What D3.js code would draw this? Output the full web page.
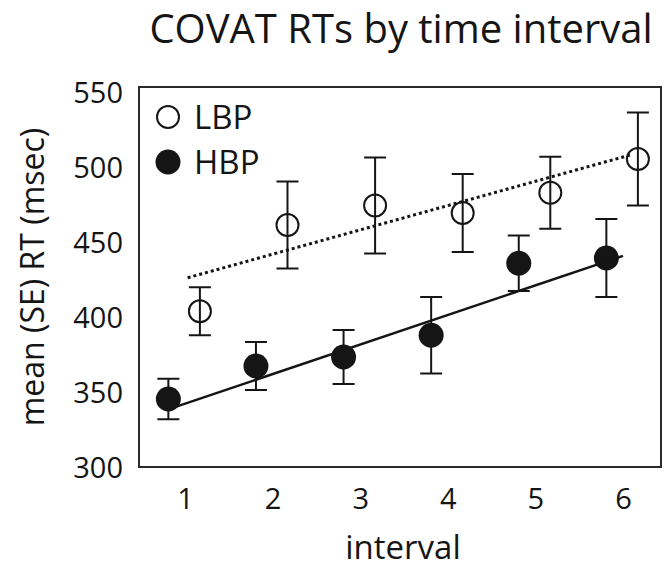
<!DOCTYPE html>
<html>
<head>
<meta charset="utf-8">
<script src="https://cdn.jsdelivr.net/npm/d3@7"></script>
<style>
  body { margin: 0; background: #fff; }
  text { font-family: "Open Sans", sans-serif; fill: #151515; }
</style>
</head>
<body>
<div id="chart"></div>
<script>
// values
var intervals = [1, 2, 3, 4, 5, 6];
var lbpMean = [404.5, 462, 475, 470, 483.5, 506];
var lbpSE   = [16, 29, 32, 26, 24, 31];
var hbpMean = [346, 368, 374, 388.5, 436.5, 440];
var hbpSE   = [13.5, 16, 18, 25.5, 18.5, 26];
var yTicks = [300, 350, 400, 450, 500, 550];
// x span of each fitted line (interval units)
var lbpFitSpan = [1.03, 6.1];
var hbpFitSpan = [0.85, 6.0];

var width = 665, height = 569;
var box = {left: 139, right: 661, top: 87, bottom: 467};
var ink = "#151515";

var svg = d3.select("#chart").append("svg")
  .attr("width", width)
  .attr("height", height);

var x = d3.scaleLinear().domain([1, 6]).range([185, 623]);
var y = d3.scaleLinear().domain([300, 550]).range([468, 93]);

// least squares line through the means
function fit(xs, ys) {
  var mx = d3.mean(xs), my = d3.mean(ys);
  var num = d3.sum(xs, function(d, i) { return (d - mx) * (ys[i] - my); });
  var den = d3.sum(xs, function(d) { return (d - mx) * (d - mx); });
  var b = num / den;
  return function(v) { return my + b * (v - mx); };
}

var groups = [
  {name: "LBP", mean: lbpMean, se: lbpSE, dodge: 0.17, filled: false, span: lbpFitSpan, dash: "3,3", lw: 3},
  {name: "HBP", mean: hbpMean, se: hbpSE, dodge: -0.19, filled: true, span: hbpFitSpan, dash: null, lw: 2.5}
];

// frame
svg.append("rect")
  .attr("x", box.left).attr("y", box.top)
  .attr("width", box.right - box.left)
  .attr("height", box.bottom - box.top)
  .attr("fill", "none")
  .attr("stroke", "#2a2a2a")
  .attr("stroke-width", 2);

// axes (labels only)
var yAxis = svg.append("g")
  .attr("transform", "translate(" + box.left + ",0)")
  .call(d3.axisLeft(y).tickValues(yTicks).tickFormat(d3.format("d")).tickSize(0).tickPadding(16));
var xAxis = svg.append("g")
  .attr("transform", "translate(0," + box.bottom + ")")
  .call(d3.axisBottom(x).tickValues(intervals).tickFormat(d3.format("d")).tickSize(0).tickPadding(21));
[yAxis, xAxis].forEach(function(g) {
  g.select(".domain").remove();
  g.selectAll("text")
    .style("font-family", "'Open Sans', sans-serif")
    .style("font-size", "29px")
    .attr("fill", ink);
});

groups.forEach(function(g) {
  var pts = intervals.map(function(v, i) {
    return {x: v + g.dodge, m: g.mean[i], se: g.se[i]};
  });
  var layer = svg.append("g").attr("class", g.name);

  // error bars
  var eb = layer.selectAll(".eb").data(pts).enter().append("g")
    .attr("stroke", ink).attr("stroke-width", 2);
  eb.append("line")
    .attr("x1", function(d) { return x(d.x); })
    .attr("x2", function(d) { return x(d.x); })
    .attr("y1", function(d) { return y(d.m - d.se); })
    .attr("y2", function(d) { return y(d.m + d.se); });
  [-1, 1].forEach(function(s) {
    eb.append("line")
      .attr("x1", function(d) { return x(d.x) - 11; })
      .attr("x2", function(d) { return x(d.x) + 11; })
      .attr("y1", function(d) { return y(d.m + s * d.se); })
      .attr("y2", function(d) { return y(d.m + s * d.se); });
  });

  // markers
  layer.selectAll("circle").data(pts).enter().append("circle")
    .attr("cx", function(d) { return x(d.x); })
    .attr("cy", function(d) { return y(d.m); })
    .attr("r", g.filled ? 12.5 : 11)
    .attr("fill", g.filled ? ink : "none")
    .attr("stroke", ink)
    .attr("stroke-width", g.filled ? 0 : 2);

  // fitted line
  var f = fit(intervals, g.mean);
  layer.append("line")
    .attr("x1", x(g.span[0])).attr("y1", y(f(g.span[0])))
    .attr("x2", x(g.span[1])).attr("y2", y(f(g.span[1])))
    .attr("stroke", ink)
    .attr("stroke-width", g.lw)
    .attr("stroke-dasharray", g.dash);
});

// legend
var legend = svg.append("g");
groups.forEach(function(g, i) {
  var cy = 117 + i * 45;
  legend.append("circle")
    .attr("cx", 168).attr("cy", cy)
    .attr("r", g.filled ? 12.5 : 11)
    .attr("fill", g.filled ? ink : "none")
    .attr("stroke", ink)
    .attr("stroke-width", g.filled ? 0 : 2);
  legend.append("text")
    .attr("x", 194).attr("y", cy + 11.5)
    .style("font-size", "33px")
    .text(g.name);
});

// titles
svg.append("text")
  .attr("x", 401).attr("y", 43)
  .attr("text-anchor", "middle")
  .style("font-size", "40px")
  .text("COVAT RTs by time interval");

svg.append("text")
  .attr("x", 403).attr("y", 559)
  .attr("text-anchor", "middle")
  .style("font-size", "33px")
  .text("interval");

svg.append("text")
  .attr("transform", "translate(44," + ((box.top + box.bottom) / 2) + ") rotate(-90)")
  .attr("text-anchor", "middle")
  .style("font-size", "32px")
  .text("mean (SE) RT (msec)");
</script>
</body>
</html>
